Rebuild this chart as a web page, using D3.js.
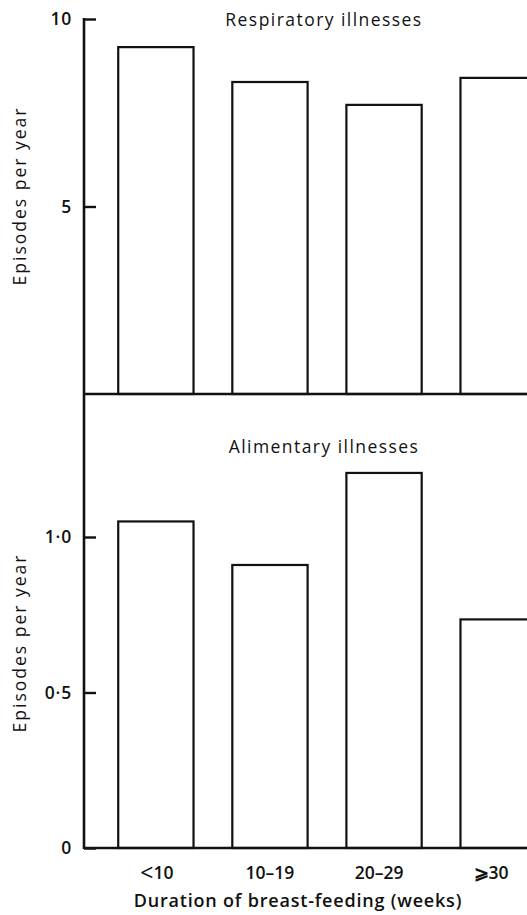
<!DOCTYPE html>
<html>
<head>
<meta charset="utf-8">
<script src="https://cdn.jsdelivr.net/npm/d3@7"></script>
<style>
  body { margin: 0; background: #fff; }
  svg text { font-family: "Open Sans", Lato, sans-serif; fill: #111; }
</style>
</head>
<body>
<div class="chart"></div>
<script>
  'use strict';

  var categories     = ['<10', '10–19', '20–29', '⩾30'];
  var respiratory    = [9.25, 8.32, 7.71, 8.43];
  var alimentary     = [1.05, 0.91, 1.206, 0.735];
  var respTicks      = [5, 10];
  var alimTicks      = [0, 0.5, 1];

  var width  = 527;
  var height = 915;
  var axisX  = 84;

  var svg = d3.select('.chart')
    .append('svg')
    .attr('width', width)
    .attr('height', height);

  var x = d3.scaleBand()
    .domain(categories)
    .range([axisX, 570])
    .paddingInner(0.34)
    .paddingOuter(0.3);

  var yTop = d3.scaleLinear().domain([0, 10]).range([394, 19]);
  var yBot = d3.scaleLinear().domain([0, 1]).range([848, 537]);

  var fmt = function(d){
    if(d === 0) return '0';
    return d3.format('.1f')(d).replace('.', '·');
  };

  // bars, drawn as open rectangles
  var drawBars = function(values, y){
    svg.append('g').selectAll('rect')
      .data(values)
      .enter().append('rect')
      .attr('x', function(d, i){ return x(categories[i]); })
      .attr('y', function(d){ return y(d); })
      .attr('width', x.bandwidth())
      .attr('height', function(d){ return y(0) - y(d); })
      .attr('fill', 'none')
      .attr('stroke', '#111')
      .attr('stroke-width', 2.2);
  };

  drawBars(respiratory, yTop);
  drawBars(alimentary, yBot);

  // y axes
  var drawAxis = function(y, ticks, f){
    var g = svg.append('g')
      .attr('transform', 'translate(' + axisX + ',0)')
      .call(d3.axisRight(y).tickValues(ticks).tickSize(12).tickFormat(''));
    g.select('.domain').remove();
    g.selectAll('line').attr('stroke', '#111').attr('stroke-width', 2.4);
    ticks.forEach(function(t){
      svg.append('text')
        .attr('x', 72)
        .attr('y', y(t))
        .attr('dy', '0.36em')
        .attr('text-anchor', 'end')
        .style('font-size', '17.5px')
        .style('font-weight', 600)
        .style('letter-spacing', '0.8px')
        .text(f(t));
    });
  };

  drawAxis(yTop, respTicks, function(d){ return d; });
  drawAxis(yBot, alimTicks, fmt);

  // frame lines: left axis and the two baselines
  svg.append('line')
    .attr('x1', axisX).attr('x2', axisX)
    .attr('y1', yTop(10) - 1).attr('y2', yBot(0) + 1)
    .attr('stroke', '#111').attr('stroke-width', 2.6);

  [yTop(0), yBot(0)].forEach(function(yy){
    svg.append('line')
      .attr('x1', axisX).attr('x2', width)
      .attr('y1', yy).attr('y2', yy)
      .attr('stroke', '#111').attr('stroke-width', 2.6);
  });

  // x tick labels (the cut-off last bar's label sits a little left)
  var labelShift = [1, 0, -5, -7];
  var xl = svg.append('g').selectAll('text')
    .data(categories)
    .enter().append('text')
    .attr('x', function(d, i){ return x(d) + x.bandwidth() / 2 + labelShift[i]; })
    .attr('y', 879)
    .attr('text-anchor', 'middle')
    .style('font-size', '17.5px')
    .style('font-weight', 600);

  xl.each(function(d){
    var t = d3.select(this);
    if(d.charAt(0) === '<'){
      t.append('tspan').attr('dy', 2).style('font-size', '23px').style('font-weight', 400).text('<');
      t.append('tspan').attr('dy', -2).text(d.slice(1));
    } else {
      t.text(d);
    }
  });

  // titles
  svg.append('text')
    .attr('x', 324).attr('y', 26)
    .attr('text-anchor', 'middle')
    .style('font-size', '17.5px')
    .style('letter-spacing', '1.45px')
    .text('Respiratory illnesses');

  svg.append('text')
    .attr('x', 324).attr('y', 453)
    .attr('text-anchor', 'middle')
    .style('font-size', '17.5px')
    .style('letter-spacing', '1.45px')
    .text('Alimentary illnesses');

  svg.append('text')
    .attr('x', 298).attr('y', 907)
    .attr('text-anchor', 'middle')
    .style('font-size', '18px')
    .style('font-weight', 600)
    .style('letter-spacing', '0.8px')
    .text('Duration of breast-feeding (weeks)');

  [196, 643].forEach(function(cy){
    svg.append('text')
      .attr('transform', 'translate(26,' + cy + ') rotate(-90)')
      .attr('text-anchor', 'middle')
      .style('font-size', '17.5px')
      .style('letter-spacing', '2px')
      .text('Episodes per year');
  });
</script>
</body>
</html>
